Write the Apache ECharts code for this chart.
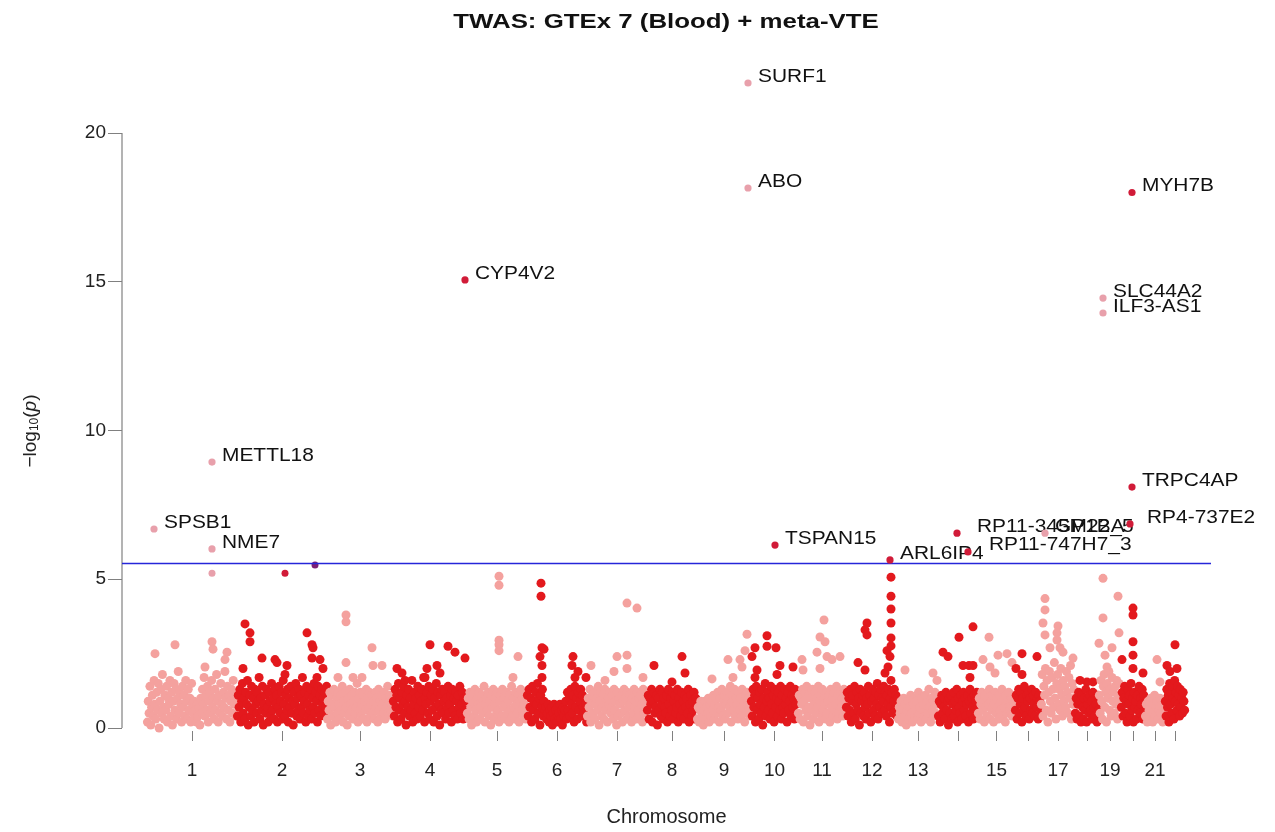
<!DOCTYPE html>
<html><head><meta charset="utf-8">
<script src="https://cdn.jsdelivr.net/npm/echarts@6/dist/echarts.min.js"></script>
<style>html,body{margin:0;padding:0;background:#fff}#c{width:1275px;height:832px}</style>
</head><body><div id="c"></div>
<script>
// ---------------- data ----------------
const chartTitle = 'TWAS: GTEx 7 (Blood) + meta-VTE';
const xName = 'Chromosome';
// relative genomic span of each chromosome (gene coverage, arbitrary units)
const chrLen = [90,90,66,74,60,60,60,50,54,47,48,52,40,40,37,26,34,24,22,24,20,20];
const labelChrs = [1,2,3,4,5,6,7,8,9,10,11,12,13,15,17,19,21];
const yTicks = [0,5,10,15,20];
const threshold = 5.53;

// bulk of -log10(p) values, in genomic order, per chromosome
const chr1 = [0.2,0.9,0.5,1.4,0.1,0.7,1.1,0.4,1.6,0.8,0.3,1.2,0.6,1.5,0.0,0.9,1.3,0.5,1.8,0.7,
0.3,1.1,0.6,1.4,0.2,1.0,0.8,1.6,0.4,1.2,0.1,0.9,1.5,0.6,1.3,0.3,1.0,1.9,0.5,1.2,
0.8,0.2,1.4,0.7,1.1,0.4,1.6,0.9,0.3,1.3,0.6,1.0,0.2,1.5,0.8,0.5,0.9,0.3,0.6,0.2,
0.8,0.4,0.7,0.1,1.0,0.5,1.3,0.8,1.7,0.4,1.1,0.6,1.4,0.2,0.9,1.2,0.5,1.6,0.7,1.0,
0.3,1.3,0.6,1.8,0.9,0.2,1.1,0.5,1.5,0.8,0.4,1.2,0.7,1.9,1.0,0.3,1.4,0.6,1.1,0.2,
0.9,1.3,0.5,1.6,0.8,1.0,0.4,1.2];
const chr2 = [0.4,1.1,0.7,1.3,0.2,0.9,1.5,0.5,1.0,0.3,1.2,0.8,1.6,0.1,0.7,1.1,0.4,1.4,0.6,1.0,
0.2,1.3,0.8,0.5,1.2,0.9,1.7,0.3,1.0,0.6,1.4,0.1,0.8,1.1,0.5,1.3,0.7,0.2,1.2,0.9,
0.4,1.5,0.6,1.0,0.3,1.3,0.8,1.1,0.2,0.7,1.4,0.5,0.9,1.2,0.3,1.6,0.8,0.4,1.1,0.6,
1.3,0.2,1.0,0.7,1.4,0.5,0.9,0.1,1.2,0.8,1.5,0.4,1.0,0.6,1.3,0.3,1.1,0.7,1.7,0.5,
0.9,1.2,0.2,1.4,0.8,0.4,1.1,0.6,1.3,0.3,1.0,0.7,1.5,0.5,1.2,0.9,0.2,1.4,0.6,1.1,
0.4,1.3,0.8,1.0,0.5,1.2,0.7,1.4];
const chr3 = [0.3,0.9,0.6,1.2,0.1,0.8,1.1,0.4,1.3,0.7,0.2,1.0,0.5,1.2,0.8,0.3,1.1,0.6,1.4,0.2,
0.9,0.5,1.2,0.7,0.1,1.0,0.4,1.3,0.8,0.6,1.1,0.3,0.9,1.2,0.5,0.7,1.5,0.2,1.0,0.6,
1.2,0.4,0.8,1.1,0.3,0.9,0.6,1.3,0.2,1.0,0.7,1.2,0.4,0.8,1.1,0.5,0.9,0.3,1.2,0.7,
1.0,0.2,1.3,0.6,0.9,0.4,1.1,0.8,0.5,1.2,0.3,1.0,0.7,1.4,0.5,0.9,1.1,0.6,0.8,0.4];
const chr4 = [0.9,0.4,1.3,0.7,1.1,0.2,1.5,0.6,1.0,0.3,1.2,0.8,1.4,0.5,0.9,0.1,1.1,0.7,1.3,0.4,
1.0,0.6,1.6,0.2,0.8,1.2,0.5,1.0,0.3,1.4,0.7,1.1,0.4,0.9,1.3,0.6,1.7,0.2,1.0,0.8,
1.2,0.5,1.4,0.3,0.9,1.1,0.6,1.3,0.2,1.0,0.7,1.5,0.4,1.2,0.8,0.1,1.1,0.6,1.3,0.5,
0.9,1.2,0.3,1.0,0.7,1.4,0.5,0.8,1.1,0.2,1.3,0.6,1.0,0.4,1.2,0.9,0.3,1.1,0.7,1.4,
0.5,0.8,1.2,0.3,1.0,0.6,0.9,0.4];
const chr5 = [0.5,1.0,0.3,1.2,0.7,0.1,0.9,1.1,0.4,1.3,0.6,0.2,1.0,0.8,1.2,0.3,0.7,1.1,0.5,0.9,
1.4,0.2,0.8,1.0,0.6,1.2,0.4,0.9,0.1,1.1,0.7,1.3,0.3,0.8,1.0,0.5,1.2,0.6,0.2,0.9,
1.1,0.4,1.3,0.7,1.0,0.3,0.8,1.2,0.5,0.9,0.2,1.1,0.6,1.4,0.4,1.0,0.7,0.3,1.2,0.8,
0.5,1.1,0.2,0.9,1.3,0.6,1.0,0.4,0.8,1.2,0.3,0.7];
const chr6 = [1.1,0.4,1.3,0.7,1.0,0.2,1.4,0.6,0.9,0.3,1.2,0.8,1.5,0.5,1.0,0.1,1.1,0.7,1.3,0.4,
0.9,0.6,
0.7,0.3,0.5,0.8,0.2,0.6,0.4,0.7,0.1,0.5,0.8,0.3,0.6,0.2,0.7,0.4,0.5,0.8,0.3,0.6,
0.1,0.7,0.4,0.6,
0.9,0.3,1.2,0.6,1.0,0.4,1.3,0.8,0.5,1.1,0.2,1.4,0.7,1.0,0.3,1.2,0.6,0.9,1.3,0.4,
1.1,0.7,0.5,1.0,0.8,0.2];
const chr7 = [0.4,1.0,0.7,1.3,0.2,0.9,1.1,0.5,1.2,0.3,0.8,1.0,0.6,1.4,0.1,0.9,1.2,0.4,0.7,1.1,
0.3,1.3,0.6,0.9,0.2,1.0,0.8,1.2,0.5,0.7,1.1,0.3,1.3,0.6,0.9,0.1,1.2,0.4,1.0,0.8,
0.5,1.1,0.2,0.9,1.3,0.6,1.0,0.3,1.2,0.7,0.4,1.1,0.8,0.2,1.0,0.5,1.3,0.7,0.9,0.3,
1.2,0.6,1.0,0.4,1.1,0.8,0.2,1.3,0.5,0.9,0.7,1.0];
const chr8 = [0.6,1.1,0.3,1.0,0.8,1.3,0.2,0.9,1.2,0.5,0.7,1.1,0.1,1.0,0.6,1.3,0.4,0.8,1.2,0.3,
1.0,0.7,0.5,1.1,0.2,1.3,0.8,0.4,1.0,0.6,1.2,0.3,0.9,1.1,0.5,0.7,1.3,0.2,1.0,0.8,
0.4,1.2,0.6,0.9,0.3,1.1,0.7,1.0,0.5,1.3,0.2,0.8,1.1,0.4,0.9,0.6,1.2,0.3,1.0,0.7];
const chr9 = [0.3,0.7,0.2,0.6,0.9,0.4,0.8,0.1,0.6,0.9,0.3,0.7,0.5,1.0,0.2,0.8,0.4,0.9,0.6,1.1,
0.3,0.8,1.0,0.5,1.2,0.7,0.2,1.0,0.6,1.3,0.4,0.9,1.1,0.3,0.8,1.2,0.5,1.0,0.7,1.4,
0.2,0.9,1.1,0.6,1.3,0.4,1.0,0.8,0.3,1.2,0.6,1.0,0.4,1.3,0.7,0.9,0.2,1.1,0.5,1.2,
0.8,1.0,0.4,0.7];
const chr10 = [0.9,0.4,1.3,0.7,1.1,0.2,1.4,0.6,1.0,0.3,1.2,0.8,0.5,1.3,0.1,1.0,0.7,1.5,0.4,0.9,
1.2,0.6,1.0,0.3,1.4,0.8,0.5,1.1,0.2,1.3,0.7,1.0,0.4,1.2,0.9,0.6,1.4,0.3,1.1,0.7,
0.5,1.3,0.8,1.0,0.2,1.2,0.6,0.9,1.4,0.4,1.1,0.7,1.0,0.3,1.3,0.8,0.5,1.1];
const chr11 = [0.5,1.1,0.3,1.0,0.8,1.3,0.2,0.9,1.2,0.6,1.4,0.4,0.7,1.1,0.1,1.0,0.6,1.3,0.3,0.8,
1.2,0.5,1.0,0.7,1.4,0.2,0.9,1.1,0.4,1.3,0.6,1.0,0.8,0.3,1.2,0.5,0.9,1.1,0.2,1.3,
0.7,1.0,0.4,1.2,0.6,0.8,1.4,0.3,1.1,0.5,0.9,1.2,0.7,1.0,0.4,1.3,0.6,0.9];
const chr12 = [0.7,1.2,0.4,1.0,0.6,1.3,0.2,0.9,1.1,0.5,1.4,0.3,0.8,1.2,0.6,1.0,0.1,1.3,0.5,0.9,
1.1,0.4,1.2,0.7,0.3,1.0,0.8,1.4,0.5,1.1,0.2,0.9,1.3,0.6,1.0,0.4,1.2,0.8,1.5,0.3,
1.1,0.7,1.3,0.5,1.0,0.9,1.4,0.6,1.2,0.4,1.1,0.8,1.3,0.2,1.0,0.7,1.2,0.5,0.9,1.3,
0.6,1.1,0.4,1.0];
const chr13 = [0.3,0.7,0.5,0.9,0.2,0.6,1.0,0.4,0.8,0.1,0.6,0.9,0.3,0.7,1.1,0.5,0.2,0.8,1.0,0.4,
0.6,0.9,0.3,1.2,0.5,0.7,0.2,1.0,0.6,0.8,0.4,1.1,0.3,0.9,0.5,1.3,0.7,0.2,1.0,0.6,
0.9,0.4,1.2,0.5,0.8,1.0];
const chr14 = [0.4,0.9,0.2,0.8,1.1,0.5,0.7,1.0,0.3,1.2,0.6,0.9,0.1,1.0,0.5,1.1,0.3,0.8,1.2,0.4,
0.9,0.6,1.3,0.2,1.0,0.7,0.5,1.1,0.3,0.9,1.2,0.6,1.0,0.4,0.8,1.1,0.2,0.9,1.3,0.5,
1.0,0.7,0.3,1.1,0.6,0.9,1.2,0.4];
const chr15 = [0.5,1.0,0.3,0.8,1.2,0.6,0.9,0.2,1.1,0.7,0.4,1.0,0.8,1.3,0.3,0.9,0.6,1.1,0.2,0.8,
1.2,0.5,1.0,0.7,0.3,1.1,0.6,0.9,1.3,0.4,1.0,0.7,0.2,1.1,0.5,0.9,1.2,0.6,0.8,1.0,
0.4,1.1,0.7,0.9];
const chr16 = [0.6,1.1,0.3,1.0,1.3,0.5,0.8,1.2,0.2,1.0,0.6,1.4,0.7,0.4,1.1,0.9,1.2,0.3,1.0,0.6,
1.3,0.5,1.1,0.8,0.4,1.2,0.7,1.0,0.3,1.1,0.9,0.6];
const chr17 = [0.8,1.8,0.4,1.4,1.1,2.0,0.6,1.6,0.2,1.2,1.9,0.9,0.5,1.7,1.3,0.7,2.2,1.0,0.3,1.5,
1.8,0.8,1.3,0.6,2.0,1.1,0.4,1.6,0.9,1.4,0.7,1.9,1.2,0.5,1.7,1.0,2.1,0.3,1.5,0.8,
1.3,1.0];
const chr18 = [0.5,1.0,0.3,0.8,1.2,0.4,0.9,0.2,1.1,0.7,0.3,1.0,0.6,1.3,0.2,0.8,1.0,0.5,1.1,0.6,
0.9,0.3,1.2,0.7,0.4,1.0,0.8,0.2,1.1,0.6];
const chr19 = [1.1,0.5,1.6,0.9,0.3,1.4,1.8,0.7,1.2,0.2,1.5,1.0,1.9,0.6,1.3,0.4,1.7,0.9,1.2,0.5,
1.4,0.8,1.6,0.3,1.1,1.5,0.7,1.0];
const chr20 = [0.7,1.2,0.4,1.0,1.4,0.5,0.9,0.2,1.3,0.8,1.1,0.4,1.5,0.6,1.0,0.2,1.2,0.7,0.9,0.3,
1.1,0.6,1.4,0.5,1.0,0.8,1.3,0.3,1.1,0.6];
const chr21 = [0.4,0.8,0.2,0.9,0.6,0.3,1.0,0.5,0.2,0.8,1.1,0.4,0.7,0.9,0.3,0.6,1.0,0.5,0.8,0.2,0.7,0.9];
const chr22 = [0.9,0.4,1.3,0.7,1.1,0.2,1.5,0.8,1.2,0.5,1.4,1.0,0.3,1.6,0.9,1.2,0.6,1.4,0.8,1.1,
0.4,1.3,0.7,1.0,0.5,1.2,0.9,0.6];
const bandValues = [chr1,chr2,chr3,chr4,chr5,chr6,chr7,chr8,chr9,chr10,chr11,chr12,chr13,chr14,chr15,chr16,chr17,chr18,chr19,chr20,chr21,chr22];

// individual genes standing out above the bulk: [chromosome, position within chromosome, -log10(p)]
const peaks = [
[1,8,2.5],[1,28,2.8],[1,65,2.9],[1,66,2.65],[1,80,2.55],[1,78,2.3],[1,58,2.05],
[2,8,3.5],[2,13,3.2],[2,13,2.9],[2,25,2.35],[2,38,2.3],[2,40,2.2],[2,6,2.0],[2,50,2.1],[2,48,1.8],
[2,70,3.2],[2,75,2.8],[2,76,2.7],[2,75,2.35],[2,83,2.3],[2,86,2.0],[2,80,1.7],
[3,19,3.8],[3,19,3.57],[3,19,2.2],[3,45,2.7],[3,46,2.1],[3,55,2.1],[3,11,1.7],[3,26,1.7],[3,35,1.7],
[4,4,2.0],[4,9,1.85],[4,37,2.8],[4,55,2.75],[4,62,2.55],[4,72,2.35],[4,32,1.7],[4,34,2.0],[4,44,2.1],[4,47,1.85],[4,12,1.6],
[5,32,5.1],[5,32,4.8],[5,32,2.95],[5,32,2.8],[5,32,2.6],[5,51,2.4],[5,46,1.7],
[6,14,4.87],[6,14,4.43],[6,15,2.7],[6,17,2.65],[6,13,2.4],[6,15,2.1],[6,15,1.7],[6,46,2.4],[6,45,2.1],[6,51,1.9],[6,48,1.7],[6,59,1.7],
[7,40,4.2],[7,50,4.03],[7,40,2.45],[7,30,2.4],[7,27,1.9],[7,40,2.0],[7,4,2.1],[7,18,1.6],[7,56,1.7],
[8,7,2.1],[8,35,2.4],[8,38,1.85],[8,25,1.55],
[9,15,1.65],[9,31,2.3],[9,43,2.3],[9,50,3.15],[9,45,2.05],[9,36,1.7],[9,48,2.6],
[10,16,3.1],[10,16,2.75],[10,4,2.7],[10,25,2.7],[10,1,2.4],[10,6,1.95],[10,29,2.1],[10,42,2.05],[10,26,1.8],[10,4,1.7],
[11,26,3.63],[11,22,3.06],[11,27,2.9],[11,19,2.55],[11,29,2.4],[11,42,2.4],[11,4,2.3],[11,5,1.95],[11,22,2.0],[11,34,2.3],
[12,21,3.53],[12,19,3.3],[12,21,3.13],[12,12,2.2],[12,19,1.95],[12,45,5.07],[12,45,4.43],[12,45,4.0],[12,45,3.53],
[12,45,3.03],[12,45,2.76],[12,41,2.6],[12,44,2.4],[12,42,2.05],[12,39,1.85],[12,45,1.6],
[13,7,1.95],[13,35,1.85],[13,39,1.6],
[14,5,2.55],[14,10,2.4],[14,21,3.05],[14,35,3.4],[14,25,2.1],[14,31,2.1],[14,35,2.1],[14,32,1.7],
[15,11,3.05],[15,5,2.3],[15,20,2.45],[15,12,2.05],[15,17,1.85],[15,29,2.5],[15,34,2.2],
[16,7,2.5],[16,1,2.0],[16,7,1.8],[16,22,2.4],
[17,4,4.35],[17,4,3.97],[17,2,3.53],[17,17,3.43],[17,16,3.2],[17,16,2.96],[17,4,3.13],[17,19,2.7],[17,9,2.7],[17,22,2.55],[17,32,2.35],
[18,12,1.55],[18,18,1.55],[18,5,1.6],
[19,4,5.03],[19,19,4.43],[19,4,3.7],[19,0,2.85],[19,6,2.45],[19,13,2.7],[19,20,3.2],[19,8,2.05],
[20,12,4.03],[20,12,3.8],[20,12,2.9],[20,12,2.45],[20,12,2.0],[20,22,1.85],[20,1,2.3],
[21,12,2.3],[21,15,1.55],
[22,10,2.8],[22,2,2.1],[22,5,1.9],[22,12,2.0]
];

// labelled TWAS hits: [gene, chromosome, position within chromosome, -log10(p)]
const hits = [
['SPSB1',1,7,6.69],['NME7',1,65,6.02],['METTL18',1,65,8.94],['CYP4V2',4,72,15.06],
['SURF1',9,51,21.68],['ABO',9,51,18.15],['TSPAN15',10,24,6.15],['ARL6IP4',12,44,5.65],
['RP11-345M22_5',14,19,6.55],['RP11-747H7_3',14,30,5.92],['GP1BA',17,4,6.55],
['SLC44A2',19,4,14.45],['ILF3-AS1',19,4,13.95],['MYH7B',20,11,18.0],['TRPC4AP',20,11,8.1],['RP4-737E2',20,9,6.86]
];
// near-threshold unlabelled genes: [chromosome, position, -log10(p)]
const nearHits = [[1,65,5.2],[2,48,5.2]];
const onLineHits = [[2,78,5.48]];

// ---------------- styling / layout ----------------
const PINK = '#F4A19E', RED = '#E3191D';
const HIT_PINK = '#E8A0AB', HIT_RED = '#D11B38', ON_LINE = '#7D1F73';
const AXIS_GREY = '#808080', THRESH_BLUE = '#2626D9';
const FONT = 'Liberation Sans, Arial, Helvetica, sans-serif';
const TEXT_STRETCH = 1.13;
const labelShift = {'RP11-345M22_5': 10, 'RP11-747H7_3': 11, 'RP4-737E2': 7};

const chrStart = [];
let acc = 0;
chrLen.forEach(l => { chrStart.push(acc); acc += l; });
const genomeEnd = acc;
const mid = chrLen.map((l, i) => chrStart[i] + l / 2);
const midToChr = {};
mid.forEach((m, i) => { midToChr[m.toFixed(2)] = i + 1; });
const xMin = -25, xMax = genomeEnd + 26;

const bgData = [];
bandValues.forEach((vals, ci) => {
  const n = vals.length;
  vals.forEach((v, i) => bgData.push([chrStart[ci] + (i + 0.5) * chrLen[ci] / n, v, ci + 1]));
  peaks.filter(p => p[0] === ci + 1).forEach(p => bgData.push([chrStart[ci] + p[1], p[2], ci + 1]));
});

const hitData = hits.map(h => [chrStart[h[1] - 1] + h[2], h[3], h[1]]);
const nearData = nearHits.map(h => [chrStart[h[0] - 1] + h[1], h[2], h[0]]);
const onLineData = onLineHits.map(h => [chrStart[h[0] - 1] + h[1], h[2], h[0]]);

const chart = echarts.init(document.getElementById('c'), null, { renderer: 'canvas' });
chart.setOption({
  animation: false,
  backgroundColor: '#ffffff',
  grid: { left: 122, right: 64, top: 58.6, bottom: 101, containLabel: false },
  xAxis: {
    type: 'value', min: xMin, max: xMax,
    name: xName, nameLocation: 'middle', nameGap: 76,
    nameTextStyle: { fontFamily: FONT, fontSize: 20, color: '#222' },
    axisLine: { show: false, onZero: false }, splitLine: { show: false },
    axisTick: { show: true, customValues: mid, length: 10, lineStyle: { color: AXIS_GREY, width: 1 } },
    axisLabel: {
      show: true, customValues: labelChrs.map(c => mid[c - 1]), margin: 30,
      fontFamily: FONT, fontSize: 19, color: '#222',
      formatter: v => String(midToChr[Number(v).toFixed(2)] || '')
    }
  },
  yAxis: {
    type: 'value', min: -0.1, max: 22.5,
    axisLine: { show: false, onZero: false }, splitLine: { show: false },
    axisTick: { show: true, customValues: yTicks, length: 14, lineStyle: { color: AXIS_GREY, width: 1 } },
    axisLabel: { show: true, customValues: yTicks, margin: 16, fontFamily: FONT, fontSize: 19, color: '#222' }
  },
  graphic: [
    {
      type: 'text', x: 666, y: 22, scaleX: 1.23,
      style: {
        text: chartTitle, align: 'center', verticalAlign: 'middle',
        fontFamily: FONT, fontSize: 21, fontWeight: 'bold', fill: '#111'
      }
    },
    {
      type: 'text', x: 31, y: 431, rotation: Math.PI / 2,
      style: {
        text: '−log{s|10}({i|p})', align: 'center', verticalAlign: 'middle',
        fontFamily: FONT, fontSize: 19, fill: '#222',
        rich: {
          s: { fontFamily: FONT, fontSize: 12, fill: '#222', verticalAlign: 'bottom', lineHeight: 12 },
          i: { fontFamily: FONT, fontSize: 19, fill: '#222', fontStyle: 'italic' }
        }
      }
    }
  ],
  series: [
    {
      type: 'line', silent: true, symbol: 'none', clip: false, color: AXIS_GREY,
      data: [[xMin, yTicks[0]], [xMin, yTicks[yTicks.length - 1]]],
      lineStyle: { color: AXIS_GREY, width: 1.2 }, z: 1
    },
    {
      type: 'scatter', silent: true, symbol: 'circle', symbolSize: 9,
      data: bgData,
      itemStyle: { opacity: 1, color: p => (p.data[2] % 2 ? PINK : RED) },
      emphasis: { disabled: true }
    },
    {
      type: 'scatter', silent: true, symbol: 'circle', symbolSize: 7,
      data: nearData,
      itemStyle: { opacity: 1, color: p => (p.data[2] % 2 ? HIT_PINK : HIT_RED) },
      emphasis: { disabled: true }
    },
    {
      type: 'scatter', silent: true, symbol: 'circle', symbolSize: 7,
      data: onLineData,
      itemStyle: { opacity: 1, color: ON_LINE },
      emphasis: { disabled: true }
    },
    {
      type: 'line', silent: true, symbol: 'none', clip: false, color: THRESH_BLUE,
      data: [[xMin, threshold], [xMax, threshold]],
      itemStyle: { color: THRESH_BLUE },
      lineStyle: { color: THRESH_BLUE, width: 1.3, opacity: 1 }, z: 3
    },
    {
      type: 'custom', silent: true, clip: false,
      data: hitData,
      encode: { x: 0, y: 1 },
      z: 4,
      renderItem: (params, api) => {
        const pt = api.coord([api.value(0), api.value(1)]);
        const name = hits[params.dataIndex][0];
        const col = api.value(2) % 2 ? HIT_PINK : HIT_RED;
        return {
          type: 'group',
          children: [
            { type: 'circle', shape: { cx: pt[0], cy: pt[1], r: 3.6 }, style: { fill: col } },
            {
              type: 'text', x: pt[0] + 10 + (labelShift[name] || 0), y: pt[1] - 6.5, scaleX: TEXT_STRETCH,
              style: { text: name, align: 'left', verticalAlign: 'middle', fontFamily: FONT, fontSize: 18.5, fill: '#111' }
            }
          ]
        };
      }
    }
  ]
});
</script>
</body></html>
